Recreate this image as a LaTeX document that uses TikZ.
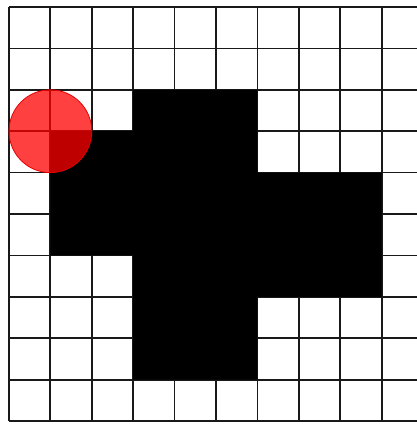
\documentclass[tikz,border=0pt]{standalone}
\usepackage{tikz}
\usetikzlibrary{calc}

\begin{document}
\begin{tikzpicture}[
    x=1.4625cm, y=1.4625cm,
    gridline/.style = {draw=black!90, line width=1.8pt},
    blob/.style = {fill=black, draw=none},
    marker/.style = {fill=red, fill opacity=0.75, draw=red!90!black, line width=0.8pt}
]

% Page frame: grid is clipped on the right like the reference
\useasboundingbox (-0.217, -0.072) rectangle (9.855, 10.169);
\clip (-0.217, -0.072) rectangle (9.855, 10.169);

% Grid (10 x 10 cells)
\draw [gridline, step={(1,1)}] (0,0) grid (10,10);

% Black cross shape
\fill [blob] (3,8) -- (6,8) -- (6,6) -- (9,6) -- (9,3) -- (6,3) -- (6,1) -- (3,1)
    -- (3,4) -- (1,4) -- (1,7) -- (3,7) -- cycle;

% Red marker on the corner point
\coordinate (probe) at (1,7);
\draw [marker] (probe) circle (1);

\end{tikzpicture}
\end{document}
